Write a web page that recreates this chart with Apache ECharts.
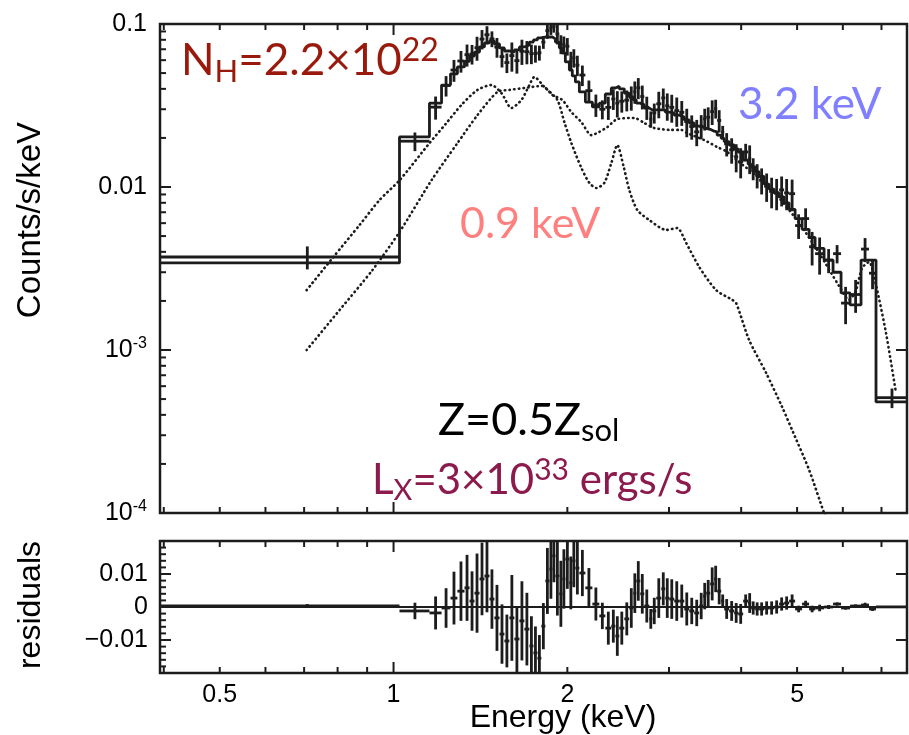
<!DOCTYPE html>
<html>
<head>
<meta charset="utf-8">
<script src="https://cdn.jsdelivr.net/npm/echarts@6/dist/echarts.min.js"></script>
<style>
  html, body { margin: 0; padding: 0; background: #fff; }
  #chart { width: 909px; height: 735px; }
</style>
</head>
<body>
<div id="chart"></div>
<script>
// energy range of the plot (keV)
const xMin = 0.394;
const xMax = 7.75;

// spectral bin edges (keV)
const edges = [0.394, 1.024, 1.154, 1.211, 1.255, 1.290, 1.327, 1.354, 1.381, 1.409, 1.437,
  1.466, 1.495, 1.526, 1.556, 1.587, 1.619, 1.652, 1.685, 1.719, 1.747,
  1.775, 1.803, 1.832, 1.862, 1.884, 1.907, 1.937, 1.961, 1.984, 2.016,
  2.040, 2.065, 2.098, 2.149, 2.210, 2.272, 2.327, 2.383, 2.422, 2.460,
  2.510, 2.560, 2.602, 2.633, 2.675, 2.718, 2.773, 2.806, 2.851, 2.909,
  2.955, 3.003, 3.063, 3.125, 3.188, 3.252, 3.317, 3.384, 3.438, 3.480,
  3.535, 3.592, 3.635, 3.694, 3.738, 3.813, 3.890, 3.953, 4.032, 4.113,
  4.163, 4.230, 4.297, 4.384, 4.472, 4.562, 4.654, 4.748, 4.843, 4.960,
  5.100, 5.245, 5.372, 5.568, 5.771, 5.958, 6.176, 6.452, 6.661, 6.849, 7.75];

// folded model per bin (counts/s/keV)
const model = [0.00342, 0.0203, 0.0327, 0.0422, 0.0495, 0.0545, 0.059, 0.0636, 0.0673, 0.0723,
  0.0765, 0.0787, 0.0754, 0.0713, 0.0683, 0.0673, 0.0693, 0.0723, 0.0743, 0.0775,
  0.0798, 0.0821, 0.0832, 0.0832, 0.0832, 0.081, 0.0775, 0.0713, 0.0663, 0.0585,
  0.0522, 0.048, 0.0441, 0.0383, 0.0332, 0.031, 0.0327, 0.0372, 0.0405, 0.0415,
  0.040, 0.0377, 0.0357, 0.0342, 0.0327, 0.0319, 0.0305, 0.0297, 0.0297, 0.0297,
  0.0297, 0.0288, 0.0284, 0.0276, 0.0269, 0.0258, 0.0247, 0.0236, 0.0233, 0.0229,
  0.0226, 0.022, 0.0218, 0.0208, 0.0199, 0.019, 0.0181, 0.0171, 0.0164, 0.0146,
  0.0138, 0.0133, 0.0124, 0.0116, 0.0104, 0.0097, 0.0092, 0.0087, 0.008, 0.0073,
  0.0064, 0.0055, 0.0049, 0.0042, 0.00356, 0.003, 0.00224, 0.00189, 0.00356, 0.00356,
  0.00048];

// residuals (data - model) per bin
const resid = [0.0003, -0.0012, -0.0018, -0.0003, 0.0027, 0.0048, 0.0058, 0.0018, 0.0042, 0.0085,
  0.0094, 0.0024, -0.0033, -0.0082, -0.0103, -0.0033, -0.0097, -0.0042, -0.0067, -0.0118,
  -0.0139, -0.0155, -0.0058, 0.0079, 0.0115, 0.0155, 0.0094, 0.004, 0.0085, 0.0145,
  0.0073, 0.014, 0.0118, 0.0103, 0.0058, 0.0009, -0.0027, -0.0064, -0.0058, -0.0088,
  -0.0064, -0.0036, -0.0003, 0.0042, 0.0079, 0.004, 0.0003, -0.0036, -0.0012, 0.0027,
  0.0055, 0.0027, 0.0024, 0.0018, 0.0018, -0.0006, -0.0012, -0.0018, 0.0003, 0.0033,
  0.0042, 0.007, 0.0085, 0.0048, 0.0018, -0.0006, -0.0012, -0.0018, -0.0021, 0.0018,
  0.0012, -0.0003, -0.0006, -0.0006, -0.0003, -0.0003, 0.0, 0.0009, 0.0012, 0.0018,
  -0.0006, 0.0009, -0.0006, -0.0003, 0.0, 0.0009, -0.0003, 0.0003, 0.0006, -0.0006,
  0.00003];

// 1-sigma errors per bin
const err = [0.0006, 0.0025, 0.005, 0.006, 0.008, 0.009, 0.010, 0.009, 0.012, 0.011,
  0.011, 0.009, 0.010, 0.009, 0.008, 0.013, 0.010, 0.012, 0.011, 0.009,
  0.008, 0.007, 0.007, 0.010, 0.009, 0.008, 0.012, 0.010, 0.009, 0.009,
  0.008, 0.008, 0.008, 0.007, 0.006, 0.005, 0.004, 0.005, 0.005, 0.006,
  0.005, 0.005, 0.006, 0.006, 0.006, 0.006, 0.005, 0.003, 0.004, 0.006,
  0.005, 0.006, 0.006, 0.006, 0.005, 0.005, 0.004, 0.004, 0.004, 0.004,
  0.004, 0.005, 0.004, 0.004, 0.002, 0.003, 0.003, 0.003, 0.003, 0.002,
  0.003, 0.002, 0.002, 0.002, 0.002, 0.002, 0.002, 0.002, 0.002, 0.002,
  0.001, 0.001, 0.001, 0.001, 0.0006, 0.0005, 0.0005, 0.0005, 0.0007, 0.0006,
  0.00007];

// 0.9 keV component
const softE = [0.7071, 0.7842, 0.8734, 0.9457, 1.0242, 1.1542, 1.2302, 1.3111, 1.3974, 1.4776,
  1.5376, 1.6001, 1.6652, 1.7191, 1.7536, 1.8249, 1.9219, 1.9763, 2.0322, 2.1148,
  2.1833, 2.2450, 2.3178, 2.3832, 2.4407, 2.5000, 2.5604, 2.6432, 2.7727, 2.9671,
  3.1000, 3.2132, 3.3838, 3.6209, 3.8594, 3.9213, 4.1296, 4.4189, 4.7101, 4.9014,
  5.2447, 5.5678, 5.68];
const softF = [0.00233, 0.00367, 0.00585, 0.00832, 0.0110, 0.0186, 0.0243, 0.0319, 0.0394, 0.0422,
  0.0377, 0.0305, 0.0342, 0.0422, 0.0473, 0.0411, 0.0342, 0.0250, 0.0186, 0.0131,
  0.0106, 0.00986, 0.0106, 0.0140, 0.0181, 0.0136, 0.00959, 0.00723, 0.00627, 0.00545,
  0.00560, 0.00453, 0.00323, 0.00233, 0.00203, 0.00194, 0.00115, 0.000723, 0.000447, 0.000323,
  0.000184, 0.0001, 0.0000844];

// 3.2 keV component
const hardE = [0.7071, 0.8065, 0.9197, 1.0242, 1.1634, 1.2904, 1.3974, 1.5133, 1.5874, 1.6852,
  1.8104, 1.8840, 1.9605, 2.0322, 2.1148, 2.2007, 2.2719, 2.3455, 2.4407, 2.6119,
  2.7180, 2.8284, 3.0268, 3.1497, 3.2260, 3.4518, 3.6353, 3.7831, 3.9685, 4.2974,
  4.6539, 5.0402, 5.4581, 5.9103, 6.1506, 6.3246, 6.4776, 6.6607, 6.8491, 7.1279,
  7.4175];
const hardF = [0.001, 0.00176, 0.0031, 0.0053, 0.011, 0.0186, 0.0276, 0.0383, 0.0394, 0.0405,
  0.0417, 0.0367, 0.0342, 0.0288, 0.025, 0.0208, 0.0218, 0.0233, 0.0261, 0.0265,
  0.0247, 0.0230, 0.0224, 0.0224, 0.0214, 0.0194, 0.0176, 0.0164, 0.0142, 0.0114,
  0.00856, 0.00601, 0.00394, 0.00247, 0.00203, 0.00233, 0.00318, 0.00347, 0.0025, 0.00127,
  0.000545];

// ticks
const xMajorTicks = [1];
const xMinorTicks = [0.4, 0.5, 0.6, 0.7, 0.8, 0.9, 2, 3, 4, 5, 6, 7];
const xLabelTicks = [0.5, 1, 2, 5];
const yMin = 0.0001, yMax = 0.1;
const yMajorTicks = [0.0001, 0.001, 0.01, 0.1];
const yMinorTicks = [0.0002, 0.0003, 0.0004, 0.0005, 0.0006, 0.0007, 0.0008, 0.0009,
  0.002, 0.003, 0.004, 0.005, 0.006, 0.007, 0.008, 0.009,
  0.02, 0.03, 0.04, 0.05, 0.06, 0.07, 0.08, 0.09];
const rMin = -0.02, rMax = 0.02;
const rMajorTicks = [-0.01, 0, 0.01];
const rMinorTicks = [-0.018, -0.016, -0.014, -0.012, -0.008, -0.006, -0.004, -0.002,
  0.002, 0.004, 0.006, 0.008, 0.012, 0.014, 0.016, 0.018];

const INK = '#1c1c1c';
const LABEL_FONT = '"Liberation Sans", Arial, sans-serif';
const NOTE_FONT = 'Lato, "Open Sans", sans-serif';
const MAJOR = 11, MINOR = 6;

const lg = Math.log10;

// value axis in log10 space, only used to place the tick labels
function labelAxis(grid, pos, min, max, axisLabel) {
  return {
    type: 'value', gridIndex: grid, position: pos, min: min, max: max,
    axisLine: { show: false, onZero: false },
    axisTick: { show: false },
    axisLabel: Object.assign({ show: true, color: '#000', fontSize: 25, fontFamily: LABEL_FONT }, axisLabel),
    splitLine: { show: false }
  };
}

function xLabelFmt(v) {
  return String(Math.round(Math.pow(10, v) * 10) / 10);
}

function yLabelMain(v) {
  const e = Math.round(v);
  if (e >= -2) return '{n|' + (e === -1 ? '0.1' : '0.01') + '}';
  return '{n|10}{s|' + e + '}';
}

function yLabelResid(v) {
  if (Math.abs(v) < 1e-9) return '0';
  return v < 0 ? '\u22120.01' : '0.01';
}

const xAxes = [
  { type: 'log', gridIndex: 0, min: xMin, max: xMax, show: false },
  { type: 'log', gridIndex: 1, min: xMin, max: xMax, show: false },
  labelAxis(1, 'bottom', lg(xMin), lg(xMax),
    { customValues: xLabelTicks.map(lg), formatter: xLabelFmt, margin: 10 })
];

const yAxes = [
  { type: 'log', gridIndex: 0, min: yMin, max: yMax, show: false },
  { type: 'value', gridIndex: 1, min: rMin, max: rMax, show: false },
  labelAxis(0, 'left', lg(yMin), lg(yMax), {
    customValues: yMajorTicks.map(lg), formatter: yLabelMain, margin: 13,
    rich: {
      n: { fontSize: 25, fontFamily: LABEL_FONT, color: '#000', lineHeight: 30 },
      s: { fontSize: 16, fontFamily: LABEL_FONT, color: '#000', lineHeight: 30, padding: [0, 0, 12, 0] }
    }
  }),
  labelAxis(1, 'left', rMin, rMax, { customValues: rMajorTicks, formatter: yLabelResid, margin: 12 })
];

function zip(xs, ys) { return xs.map((x, i) => [x, ys[i]]); }

// histogram outline of the model
const modelSteps = model.map((v, i) => [edges[i], v]);
modelSteps.push([edges[edges.length - 1], model[model.length - 1]]);

const dataRows = model.map((m, i) => [edges[i], edges[i + 1], m + resid[i], err[i]]);
const residRows = resid.map((r, i) => [edges[i], edges[i + 1], r, err[i]]);

function renderCross(params, api) {
  const lo = api.value(0), hi = api.value(1), y = api.value(2), e = api.value(3);
  const xc = (lo + hi) / 2;
  const a = api.coord([lo, y]);
  const b = api.coord([hi, y]);
  const top = api.coord([xc, y + e]);
  const bot = api.coord([xc, y - e]);
  const style = { stroke: INK, lineWidth: 2.8 };
  return {
    type: 'group',
    children: [
      { type: 'line', shape: { x1: a[0], y1: a[1], x2: b[0], y2: b[1] }, style: style },
      { type: 'line', shape: { x1: top[0], y1: top[1], x2: top[0], y2: bot[1] }, style: style }
    ]
  };
}

const dotted = { color: INK, width: 2.6, type: [0.5, 4.2], cap: 'round' };

const textGraphics = [
  { type: 'text', x: 31, y: 220, rotation: Math.PI / 2, style: {
    text: 'Counts/s/keV', font: '33px ' + LABEL_FONT, fill: '#000',
    align: 'center', verticalAlign: 'middle' } },
  { type: 'text', x: 31, y: 605, rotation: Math.PI / 2, style: {
    text: 'residuals', font: '32px ' + LABEL_FONT, fill: '#000',
    align: 'center', verticalAlign: 'middle' } },
  { type: 'text', x: 563, y: 718, style: {
    text: 'Energy (keV)', font: '32px ' + LABEL_FONT, fill: '#000',
    align: 'center', verticalAlign: 'middle' } },
  { type: 'text', left: 181, top: 35, style: {
    text: '{m|N}{sb|H}{m|=2.2\u00d710}{sp|22}',
    rich: {
      m: { fontSize: 44, fontFamily: NOTE_FONT, fill: '#991a0c', lineHeight: 52 },
      sb: { fontSize: 31, fontFamily: NOTE_FONT, fill: '#991a0c', lineHeight: 31, verticalAlign: 'bottom' },
      sp: { fontSize: 32, fontFamily: NOTE_FONT, fill: '#991a0c', lineHeight: 28, verticalAlign: 'top' }
    } } },
  { type: 'text', left: 738, top: 83, style: {
    text: '3.2 keV', font: '44px ' + NOTE_FONT, fill: '#7f7fff' } },
  { type: 'text', left: 460, top: 203, style: {
    text: '0.9 keV', font: '43px ' + NOTE_FONT, fill: '#ff7f7f' } },
  { type: 'text', left: 438, top: 398, style: {
    text: '{m|Z=0.5Z}{sb|sol}',
    rich: {
      m: { fontSize: 45, fontFamily: NOTE_FONT, fill: '#000', lineHeight: 52 },
      sb: { fontSize: 31, fontFamily: NOTE_FONT, fill: '#000', lineHeight: 30, verticalAlign: 'bottom' }
    } } },
  { type: 'text', left: 372, top: 455, style: {
    text: '{m|L}{sb|X}{m|=3\u00d710}{sp|33}{m| ergs/s}',
    rich: {
      m: { fontSize: 42, fontFamily: NOTE_FONT, fill: '#8c1a4c', lineHeight: 50 },
      sb: { fontSize: 29, fontFamily: NOTE_FONT, fill: '#8c1a4c', lineHeight: 29, verticalAlign: 'bottom' },
      sp: { fontSize: 30, fontFamily: NOTE_FONT, fill: '#8c1a4c', lineHeight: 27, verticalAlign: 'top' }
    } } }
];

const chart = echarts.init(document.getElementById('chart'), null, { renderer: 'canvas' });

chart.setOption({
  animation: false,
  backgroundColor: '#fff',
  grid: [
    { left: 160, top: 24, width: 747, height: 489, show: true, borderColor: INK, borderWidth: 2.5 },
    { left: 160, top: 541, width: 747, height: 132, show: true, borderColor: INK, borderWidth: 2.5 }
  ],
  xAxis: xAxes,
  yAxis: yAxes,
  graphic: textGraphics,
  series: [
    {
      name: '0.9 keV', type: 'line', xAxisIndex: 0, yAxisIndex: 0,
      data: zip(softE, softF), smooth: 0.25, symbol: 'none', lineStyle: dotted, z: 2
    },
    {
      name: '3.2 keV', type: 'line', xAxisIndex: 0, yAxisIndex: 0,
      data: zip(hardE, hardF), smooth: 0.25, symbol: 'none', lineStyle: dotted, z: 2
    },
    {
      name: 'model', type: 'line', xAxisIndex: 0, yAxisIndex: 0,
      data: modelSteps, step: 'end', symbol: 'none',
      lineStyle: { color: INK, width: 2.8 }, z: 3
    },
    {
      name: 'data', type: 'custom', xAxisIndex: 0, yAxisIndex: 0,
      data: dataRows, renderItem: renderCross, clip: true,
      encode: { x: [0, 1], y: 2 }, z: 4
    },
    {
      name: 'zero', type: 'line', xAxisIndex: 1, yAxisIndex: 1,
      data: [[xMin, 0], [xMax, 0]], symbol: 'none',
      lineStyle: { color: INK, width: 2.2 }, z: 2
    },
    {
      name: 'residuals', type: 'custom', xAxisIndex: 1, yAxisIndex: 1,
      data: residRows, renderItem: renderCross, clip: true,
      encode: { x: [0, 1], y: 2 }, z: 4
    }
  ]
});

// inward tick marks, placed through each panel's own axes
function panelTicks(gi, yLo, yHi, yRef, yMaj, yMin_) {
  const finder = { xAxisIndex: gi, yAxisIndex: gi };
  const left = chart.convertToPixel(finder, [xMin, yRef])[0];
  const right = chart.convertToPixel(finder, [xMax, yRef])[0];
  const bottom = chart.convertToPixel(finder, [1, yLo])[1];
  const top = chart.convertToPixel(finder, [1, yHi])[1];
  const out = [];
  const line = (x1, y1, x2, y2) => out.push({ type: 'line', z: 20, silent: true,
    shape: { x1: x1, y1: y1, x2: x2, y2: y2 }, style: { stroke: INK, lineWidth: 2 } });
  xMajorTicks.map(v => [v, MAJOR]).concat(xMinorTicks.map(v => [v, MINOR])).forEach(t => {
    const x = chart.convertToPixel(finder, [t[0], yRef])[0];
    line(x, bottom, x, bottom - t[1]);
    line(x, top, x, top + t[1]);
  });
  yMaj.forEach(v => {
    const y = chart.convertToPixel(finder, [1, v])[1];
    line(left, y, left + MAJOR, y);
    line(right, y, right - MAJOR, y);
  });
  yMin_.forEach(v => {
    const y = chart.convertToPixel(finder, [1, v])[1];
    line(left, y, left + MINOR, y);
  });
  return out;
}

const tickGraphics = panelTicks(0, yMin, yMax, 0.01, yMajorTicks, yMinorTicks)
  .concat(panelTicks(1, rMin, rMax, 0, rMajorTicks, rMinorTicks));

chart.setOption({ graphic: textGraphics.concat(tickGraphics) });
</script>
</body>
</html>
